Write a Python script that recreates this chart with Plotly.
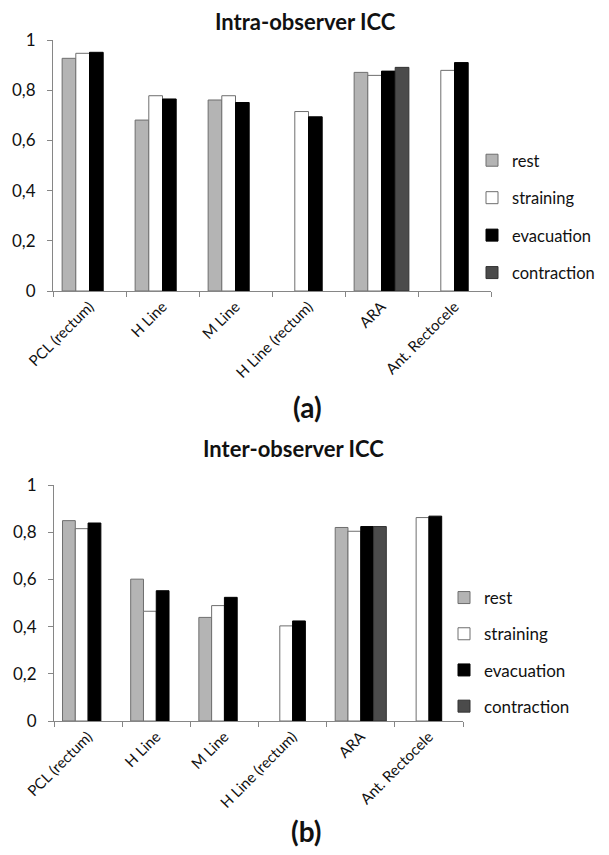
import plotly.graph_objects as go

# ---------------- data ----------------
categories = ["PCL (rectum)", "H Line", "M Line", "H Line (rectum)", "ARA", "Ant. Rectocele"]
series_names = ["rest", "straining", "evacuation", "contraction"]

intra_rest = [0.927, 0.681, 0.761, None, 0.871, None]
intra_straining = [0.947, 0.778, 0.778, 0.715, 0.859, 0.879]
intra_evacuation = [0.951, 0.765, 0.751, 0.694, 0.876, 0.910]
intra_contraction = [None, None, None, None, 0.891, None]

inter_rest = [0.849, 0.601, 0.439, None, 0.820, None]
inter_straining = [0.815, 0.465, 0.489, 0.403, 0.804, 0.862]
inter_evacuation = [0.839, 0.552, 0.524, 0.424, 0.824, 0.868]
inter_contraction = [None, None, None, None, 0.824, None]

ytick_vals = [0, 0.2, 0.4, 0.6, 0.8, 1]
ytick_text = ["0", "0,2", "0,4", "0,6", "0,8", "1"]

title_a = "Intra-observer ICC"
title_b = "Inter-observer ICC"

# ---------------- style ----------------
# The page body adds an 8px margin, so positions below are given in
# window pixels and converted to figure (paper) coordinates.
OFF = 8
FW, FH = 609, 855
FONT = "Lato"
fills = ["#b4b4b4", "#ffffff", "#000000", "#4b4b4b"]
lines = ["#6e6e6e", "#6e6e6e", "#000000", "#333333"]
AXIS = "#868686"


def px(x):
    return (x - OFF) / FW


def py(y):
    return 1 - (y - OFF) / FH


fig = go.Figure()

intra = [intra_rest, intra_straining, intra_evacuation, intra_contraction]
inter = [inter_rest, inter_straining, inter_evacuation, inter_contraction]

for i, name in enumerate(series_names):
    fig.add_trace(go.Bar(
        x=categories, y=intra[i], name=name,
        marker=dict(color=fills[i], line=dict(color=lines[i], width=1)),
        xaxis="x", yaxis="y", legend="legend", legendgroup="a" + name,
    ))
for i, name in enumerate(series_names):
    fig.add_trace(go.Bar(
        x=categories, y=inter[i], name=name,
        marker=dict(color=fills[i], line=dict(color=lines[i], width=1)),
        xaxis="x2", yaxis="y2", legend="legend2", legendgroup="b" + name,
    ))

xaxis_common = dict(
    type="category", showline=True, linecolor=AXIS, linewidth=1,
    ticks="outside", ticklen=5, tickcolor=AXIS, tickson="boundaries",
    tickangle=-45, tickfont=dict(family=FONT, size=15, color="#111111"),
    showgrid=False, zeroline=False, fixedrange=True, automargin=False,
)
yaxis_common = dict(
    range=[0, 1], tickvals=ytick_vals, ticktext=ytick_text,
    showline=True, linecolor=AXIS, linewidth=1,
    ticks="outside", ticklen=5, tickcolor=AXIS, ticklabelstandoff=8,
    tickfont=dict(family=FONT, size=17, color="#111111"),
    showgrid=False, zeroline=False, fixedrange=True, automargin=False,
)


def legend_style(size):
    return dict(
        font=dict(family=FONT, size=size, color="#111111"),
        bgcolor="rgba(0,0,0,0)", xanchor="left", yanchor="top",
        traceorder="grouped", itemclick=False, itemdoubleclick=False,
    )


def label(text, x, y, size):
    return dict(text=text, x=px(x), y=py(y), xref="paper", yref="paper",
                xanchor="center", yanchor="middle", showarrow=False,
                font=dict(family=FONT, size=size, color="#111111"))


fig.update_layout(
    template="none",
    width=FW, height=FH,
    margin=dict(l=0, r=0, t=0, b=0, autoexpand=False),
    paper_bgcolor="white", plot_bgcolor="white",
    barmode="group", bargap=0.25, bargroupgap=0,
    showlegend=True,
    xaxis=dict(domain=[px(53), px(491)], anchor="y", **xaxis_common),
    yaxis=dict(domain=[py(291), py(40)], anchor="x", **yaxis_common),
    xaxis2=dict(domain=[px(54), px(463)], anchor="y2", **xaxis_common),
    yaxis2=dict(domain=[py(721), py(485)], anchor="x2", **yaxis_common),
    legend=dict(x=px(472), y=py(143), tracegroupgap=13, **legend_style(16.5)),
    legend2=dict(x=px(444), y=py(580), tracegroupgap=11.1, **legend_style(17)),
    annotations=[
        label("<b>" + title_a + "</b>", 305, 22, 22),
        label("<b>(a)</b>", 307, 407, 28),
        label("<b>" + title_b + "</b>", 293, 448, 22),
        label("<b>(b)</b>", 306, 831, 28),
    ],
)

fig.write_html("out.html")
